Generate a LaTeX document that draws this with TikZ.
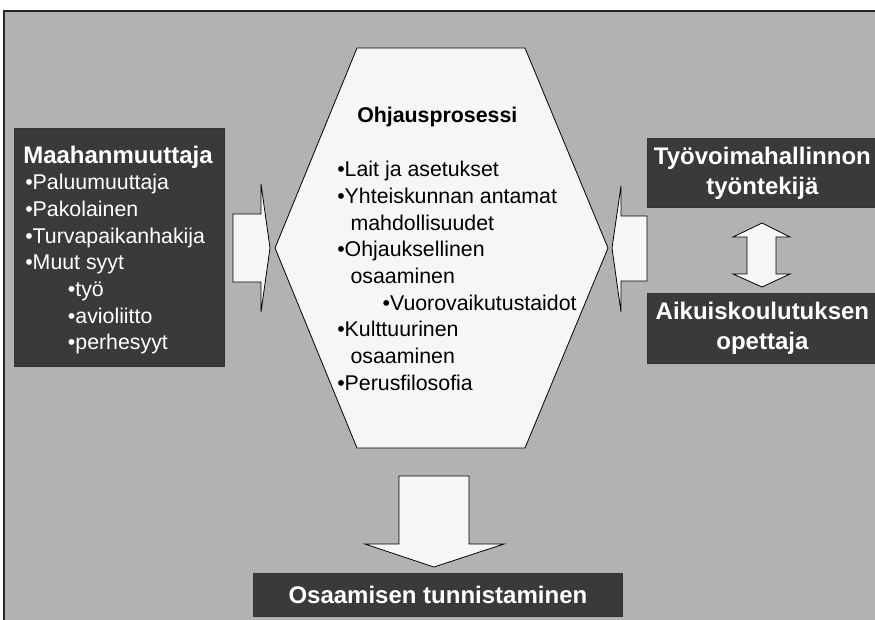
\documentclass[tikz,border=0pt]{standalone}
\usepackage{fontspec}
\setmainfont{Liberation Sans}
\usetikzlibrary{positioning}

\definecolor{panelgray}{RGB}{178,178,178}
\definecolor{boxdark}{RGB}{58,58,58}
\definecolor{hexwhite}{RGB}{246,246,246}

\tikzset{
  darkbox/.style={draw=black!80, fill=boxdark, text=white, line width=0.6, inner sep=0, align=center},
  blockarrow/.style={draw=black, fill=hexwhite, line width=0.6, line join=miter},
  itemtext/.style={inner sep=0, align=left, font=\fontsize{16}{20}\selectfont},
  headtext/.style={inner sep=0, font=\fontsize{18}{22.5}\selectfont\bfseries}
}

\begin{document}
\begin{tikzpicture}[x=0.75pt,y=0.75pt,yscale=-1,xscale=1]
        \useasboundingbox (0,0) rectangle (875,619);
        %Background panel
        \fill [white] (0,0) rectangle (875,619);
        \draw [color=black!85, fill=panelgray, line width=1.2] (4,11) rectangle (890,630);

        %Shape: Hexagon
        \draw [fill=hexwhite, line width=0.6] (357,48) -- (525,48) -- (608,248) -- (525,448) -- (357,448) -- (275,248) -- cycle ;
        \node [anchor=base west, inner sep=0, font=\fontsize{16}{20}\selectfont\bfseries] (ohjaus) at (357,122) {Ohjausprosessi};
        \node [itemtext, anchor=north west] (ohjauslist) at (337,161) {%
          •Lait ja asetukset\\
          •Yhteiskunnan antamat\\
          \hspace*{10pt}mahdollisuudet\\
          •Ohjauksellinen\\
          \hspace*{10pt}osaaminen\\
          \hspace*{34pt}•Vuorovaikutustaidot\\
          •Kulttuurinen\\
          \hspace*{10pt}osaaminen\\
          •Perusfilosofia};

        %Shape: Left box
        \node [darkbox, minimum width=157.5pt, minimum height=178.5pt, anchor=north west] (maahan) at (14,128) {};
        \node [headtext, text=white, anchor=base west] (maahantitle) at (23,163) {Maahanmuuttaja};
        \node [itemtext, text=white, anchor=north west] (maahanlist) at (25,174) {%
          •Paluumuuttaja\\
          •Pakolainen\\
          •Turvapaikanhakija\\
          •Muut syyt\\
          \hspace*{32pt}•työ\\
          \hspace*{32pt}•avioliitto\\
          \hspace*{32pt}•perhesyyt};

        %Shape: Right boxes
        \node [darkbox, headtext, text=white, minimum width=172.5pt, minimum height=51.75pt, anchor=north west] (tyovoima) at (647,138) {Työvoimahallinnon\\työntekijä};
        \node [darkbox, headtext, text=white, minimum width=172.5pt, minimum height=52.5pt, anchor=north west] (aikuis) at (647,293) {Aikuiskoulutuksen\\opettaja};

        %Shape: Bottom box
        \node [darkbox, headtext, text=white, minimum width=276.75pt, minimum height=32.25pt, anchor=north west] (osaaminen) at (253,573) {Osaamisen tunnistaminen};

        %Block arrow: left into hexagon
        \draw [blockarrow] (233,214) -- (261,214) -- (261,184) -- (270,248) -- (261,312) -- (261,282) -- (233,282) -- cycle ;
        %Block arrow: right into hexagon
        \draw [blockarrow] (647,216) -- (621,216) -- (621,186) -- (612,248) -- (621,312) -- (621,281) -- (647,281) -- cycle ;
        %Block arrow: down
        \draw [blockarrow] (399,476) -- (469,476) -- (469,544) -- (504,544) -- (434,567) -- (365,544) -- (399,544) -- cycle ;
        %Block arrow: up-down
        \draw [blockarrow] (762,223) -- (790,237) -- (776,237) -- (776,274) -- (790,274) -- (762,287) -- (733,274) -- (747,274) -- (747,237) -- (733,237) -- cycle ;
\end{tikzpicture}
\end{document}
